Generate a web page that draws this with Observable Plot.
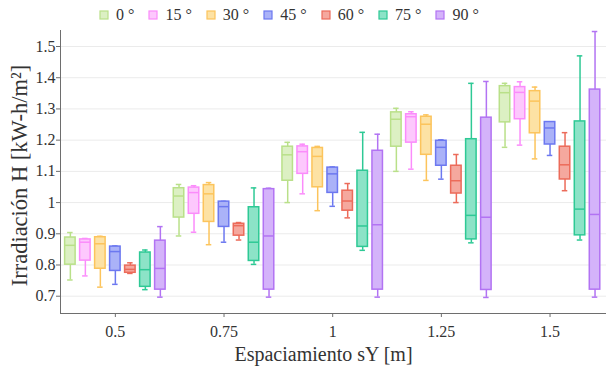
<!DOCTYPE html>
<html>
<head>
<meta charset="utf-8">
<script src="https://cdn.jsdelivr.net/npm/d3@7"></script>
<script src="https://cdn.jsdelivr.net/npm/@observablehq/plot@0.6"></script>
<style>
  body { margin: 0; background: #fff; }
  #chart { width: 606px; height: 366px; overflow: hidden; font-family: "Liberation Serif", serif; }
  .leg-swatches { font-family: "Liberation Serif", serif; font-size: 16px; color: #333;
    height: 30px; min-height: 30px; margin: 0; padding-left: 100px; box-sizing: border-box;
    display: flex; align-items: center; flex-wrap: nowrap; }
  .leg-swatches .leg-swatch { margin-right: 15px; }
  .leg-swatches .leg-swatch > svg { margin-right: 8px; overflow: visible; }
  #chart svg.plot { overflow: visible; display: block; font-family: "Liberation Serif", serif; }
  #chart svg.plot text { font-family: "Liberation Serif", serif; font-variant: normal; }
</style>
</head>
<body>
<div id="chart"></div>
<script>
// ---------- data ----------
const spacings = [0.5, 0.75, 1, 1.25, 1.5];
const spacingLabels = ["0.5", "0.75", "1", "1.25", "1.5"];
const angles = ["0 °", "15 °", "30 °", "45 °", "60 °", "75 °", "90 °"];
const yTicks = [0.7, 0.8, 0.9, 1.0, 1.1, 1.2, 1.3, 1.4, 1.5];
const yTickLabels = ["0.7", "0.8", "0.9", "1", "1.1", "1.2", "1.3", "1.4", "1.5"];
const xTitle = "Espaciamiento sY [m]";
const yTitle = "Irradiación H [kW-h/m²]";

// five-number summaries, one row per angle, one column per spacing
const whiskerLow = [
  [0.752, 0.893, 1.000, 1.100, 1.177],
  [0.765, 0.905, 1.028, 1.107, 1.184],
  [0.729, 0.865, 0.974, 1.071, 1.140],
  [0.738, 0.873, 0.988, 1.075, 1.151],
  [0.773, 0.880, 0.951, 1.000, 1.038],
  [0.721, 0.802, 0.847, 0.871, 0.880],
  [0.697, 0.697, 0.697, 0.696, 0.697]
];
const quartile1 = [
  [0.801, 0.952, 1.070, 1.179, 1.257],
  [0.814, 0.964, 1.092, 1.192, 1.267],
  [0.788, 0.938, 1.049, 1.153, 1.222],
  [0.781, 0.922, 1.031, 1.118, 1.186],
  [0.775, 0.894, 0.974, 1.029, 1.074],
  [0.730, 0.813, 0.858, 0.882, 0.895],
  [0.721, 0.721, 0.721, 0.720, 0.721]
];
const medians = [
  [0.863, 1.021, 1.153, 1.267, 1.352],
  [0.873, 1.032, 1.163, 1.275, 1.353],
  [0.868, 1.028, 1.148, 1.251, 1.325],
  [0.843, 0.987, 1.092, 1.177, 1.239],
  [0.786, 0.926, 1.005, 1.070, 1.121],
  [0.785, 0.873, 0.925, 0.959, 0.979],
  [0.789, 0.893, 0.929, 0.953, 0.962]
];
const quartile3 = [
  [0.888, 1.046, 1.179, 1.289, 1.373],
  [0.882, 1.048, 1.180, 1.283, 1.370],
  [0.889, 1.056, 1.175, 1.275, 1.357],
  [0.859, 1.003, 1.112, 1.198, 1.258],
  [0.798, 0.932, 1.038, 1.118, 1.179],
  [0.840, 0.985, 1.102, 1.203, 1.260],
  [0.878, 1.043, 1.166, 1.272, 1.362]
];
const whiskerHigh = [
  [0.904, 1.058, 1.193, 1.302, 1.382],
  [0.885, 1.054, 1.187, 1.291, 1.387],
  [0.892, 1.064, 1.180, 1.281, 1.370],
  [0.861, 1.004, 1.114, 1.201, 1.259],
  [0.807, 0.936, 1.061, 1.154, 1.224],
  [0.848, 1.047, 1.225, 1.382, 1.470],
  [0.923, 1.046, 1.219, 1.388, 1.548]
];

// ---------- styles ----------
const strokes = ["#b9e089", "#fb8cfb", "#fcc45c", "#6c78f0", "#ec6b5a", "#2ec995", "#b273f3"];
const fills   = ["#dcf0c3", "#fdc8fd", "#fde2a4", "#aab2f8", "#f5a89e", "#8ce3c7", "#d4b3fa"];
const serif = "Liberation Serif";

const W = 606, H = 336;
const mL = 60, mR = 0, mT = 0, mB = 53;
const xDomain = [0.3738, 1.6299];
const yDomain = [0.6446, 1.5513];
const pxPerUnit = (W - mL - mR) / (xDomain[1] - xDomain[0]);
const dodgeStep = 15 / pxPerUnit;
const boxHalf = 5.25 / pxPerUnit;
const capHalf = 2.75 / pxPerUnit;

const rows = [];
angles.forEach((a, i) => {
  spacings.forEach((s, j) => {
    const xc = s + (i - 3) * dodgeStep;
    rows.push({
      angle: a, sY: s, xc,
      x1: xc - boxHalf, x2: xc + boxHalf,
      c1: xc - capHalf, c2: xc + capHalf,
      lo: whiskerLow[i][j], q1: quartile1[i][j], med: medians[i][j],
      q3: quartile3[i][j], hi: whiskerHigh[i][j],
      fill: fills[i], stroke: strokes[i]
    });
  });
});

const textColor = "#333";
const axisColor = "#6e6e6e";

const plot = Plot.plot({
  width: W, height: H,
  marginLeft: mL, marginRight: mR, marginTop: mT, marginBottom: mB,
  style: { fontFamily: serif, fontSize: "16px", color: textColor, background: "white", overflow: "visible" },
  x: { type: "linear", domain: xDomain },
  y: { type: "linear", domain: yDomain },
  marks: [
    Plot.gridY({ ticks: yTicks, stroke: "#ebebeb", strokeOpacity: 1, strokeWidth: 1 }),
    Plot.ruleX([xDomain[0]], { stroke: axisColor, strokeWidth: 1 }),
    Plot.ruleY([yDomain[0]], { stroke: axisColor, strokeWidth: 1 }),
    Plot.axisY({ ticks: yTicks, tickSize: 4, tickPadding: 1, stroke: axisColor, fill: textColor,
      fontFamily: serif, fontSize: 16, label: null, tickFormat: d => yTickLabels[yTicks.indexOf(d)] }),
    Plot.axisX({ ticks: spacings, tickSize: 4, tickPadding: 8, stroke: axisColor, fill: textColor,
      fontFamily: serif, fontSize: 16, label: null, tickFormat: d => spacingLabels[spacings.indexOf(d)] }),
    // whiskers
    Plot.ruleX(rows, { x: "xc", y1: "lo", y2: "hi", stroke: "stroke", strokeWidth: 1.5 }),
    Plot.ruleY(rows, { y: "lo", x1: "c1", x2: "c2", stroke: "stroke", strokeWidth: 1.5 }),
    Plot.ruleY(rows, { y: "hi", x1: "c1", x2: "c2", stroke: "stroke", strokeWidth: 1.5 }),
    // boxes
    Plot.rect(rows, { x1: "x1", x2: "x2", y1: "q1", y2: "q3", fill: "fill", stroke: "stroke", strokeWidth: 1.5 }),
    // medians
    Plot.ruleY(rows, { y: "med", x1: "x1", x2: "x2", stroke: "stroke", strokeWidth: 1.5 }),
    // axis titles
    Plot.text([xTitle], { frameAnchor: "bottom", text: d => d, textAnchor: "middle", dx: -10, dy: 47,
      fontFamily: serif, fontSize: 20, fill: textColor }),
    Plot.text([yTitle], { frameAnchor: "left", text: d => d, textAnchor: "middle", lineAnchor: "middle",
      rotate: -90, dx: -41, dy: 3.5, fontFamily: serif, fontSize: 22.5, fill: textColor })
  ]
});

const legend = Plot.legend({
  color: { type: "ordinal", domain: angles, range: fills },
  legend: "swatches",
  swatchSize: 8,
  className: "leg"
});
d3.select(legend).selectAll("svg").each(function (d, i) {
  d3.select(this).select("rect")
    .attr("fill", fills[i])
    .attr("stroke", strokes[i])
    .attr("stroke-width", 1.2);
});

const chart = document.getElementById("chart");
chart.appendChild(legend);
chart.appendChild(plot);
</script>
</body>
</html>
